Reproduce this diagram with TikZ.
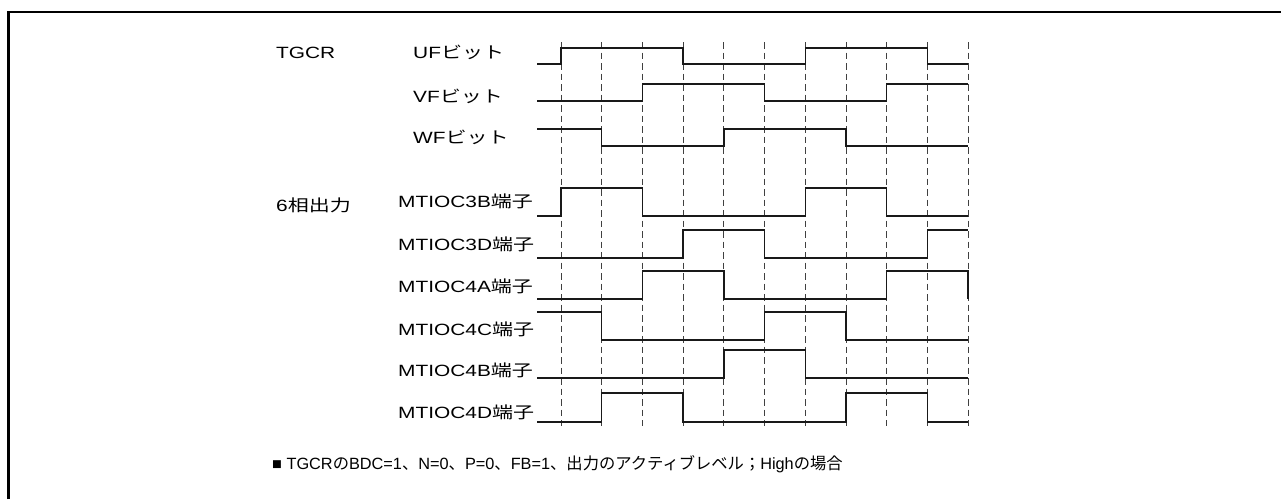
\documentclass[tikz,border=0pt]{standalone}
\usepackage{fontspec}
\setmainfont{Liberation Sans}[FakeStretch=1.28]
\newfontfamily\jp{Noto Sans CJK JP}[FakeStretch=1.29]
\newfontfamily\notefont{Liberation Sans}
\newfontfamily\notejp{Noto Sans CJK JP}
\tikzset{
  lbl/.style={anchor=base west, inner sep=0pt, font=\fontsize{16.3}{19}\selectfont},
  notelbl/.style={anchor=base west, inner sep=0pt, font=\fontsize{16.3}{19}\notefont},
  grid/.style={line width=0.8pt, dash pattern=on 6.5pt off 4pt, black!75},
  sig/.style={line width=1.4pt, black!90, line join=miter},
  frame/.style={line width=2.7pt, black}
}
\begin{document}
\begin{tikzpicture}[x=1pt,y=-1pt]
\useasboundingbox (0,0) rectangle (1281,499);
\draw[frame] (8.7,499) -- (8.7,12) -- (1281,12);
% grid lines
\foreach \i in {0,...,10} {
  \draw[grid] ({561+\i*40.7},42) -- ({561+\i*40.7},426);
}
% labels
\node[lbl] (tgcr) at (276,58) {TGCR};
\node[lbl] (uf) at (413,58) {UF{\jp ビット}};
\node[lbl] (vf) at (413,102.5) {VF{\jp ビット}};
\node[lbl] (wf) at (413,143.5) {WF{\jp ビット}};
\node[lbl] (six) at (276,211) {6{\jp 相出力}};
\node[lbl] (m3b) at (398,207) {MTIOC3B{\jp 端子}};
\node[lbl] (m3d) at (398,250) {MTIOC3D{\jp 端子}};
\node[lbl] (m4a) at (398,292) {MTIOC4A{\jp 端子}};
\node[lbl] (m4c) at (398,335) {MTIOC4C{\jp 端子}};
\node[lbl] (m4b) at (398,376) {MTIOC4B{\jp 端子}};
\node[lbl] (m4d) at (398,418) {MTIOC4D{\jp 端子}};
\node[notelbl] (note) at (272,469) {■ TGCR{\notejp の}BDC=1{\notejp 、}N=0{\notejp 、}P=0{\notejp 、}FB=1{\notejp 、出力のアクティブレベル；}High{\notejp の場合}};
% waveforms
\draw[sig] (537,64) -- (561,64) -- (561,48) -- (683.1,48) -- (683.1,64) -- (805.2,64) -- (805.2,48) -- (927.3,48) -- (927.3,64) -- (968,64);
\draw[sig] (537,101) -- (642.4,101) -- (642.4,84) -- (764.5,84) -- (764.5,101) -- (886.6,101) -- (886.6,84) -- (968,84);
\draw[sig] (537,129) -- (601.7,129) -- (601.7,146) -- (723.8,146) -- (723.8,129) -- (845.9,129) -- (845.9,146) -- (968,146);
\draw[sig] (537,216) -- (561,216) -- (561,188) -- (642.4,188) -- (642.4,216) -- (805.2,216) -- (805.2,188) -- (886.6,188) -- (886.6,216) -- (968,216);
\draw[sig] (537,258) -- (683.1,258) -- (683.1,230) -- (764.5,230) -- (764.5,258) -- (927.3,258) -- (927.3,230) -- (968,230);
\draw[sig] (537,299) -- (642.4,299) -- (642.4,271) -- (723.8,271) -- (723.8,299) -- (886.6,299) -- (886.6,271) -- (968,271) -- (968,299);
\draw[sig] (537,312) -- (601.7,312) -- (601.7,340) -- (764.5,340) -- (764.5,312) -- (845.9,312) -- (845.9,340) -- (968,340);
\draw[sig] (537,378) -- (723.8,378) -- (723.8,350) -- (805.2,350) -- (805.2,378) -- (968,378);
\draw[sig] (537,422) -- (601.7,422) -- (601.7,393) -- (683.1,393) -- (683.1,422) -- (845.9,422) -- (845.9,393) -- (927.3,393) -- (927.3,422) -- (968,422);
\end{tikzpicture}
\end{document}
